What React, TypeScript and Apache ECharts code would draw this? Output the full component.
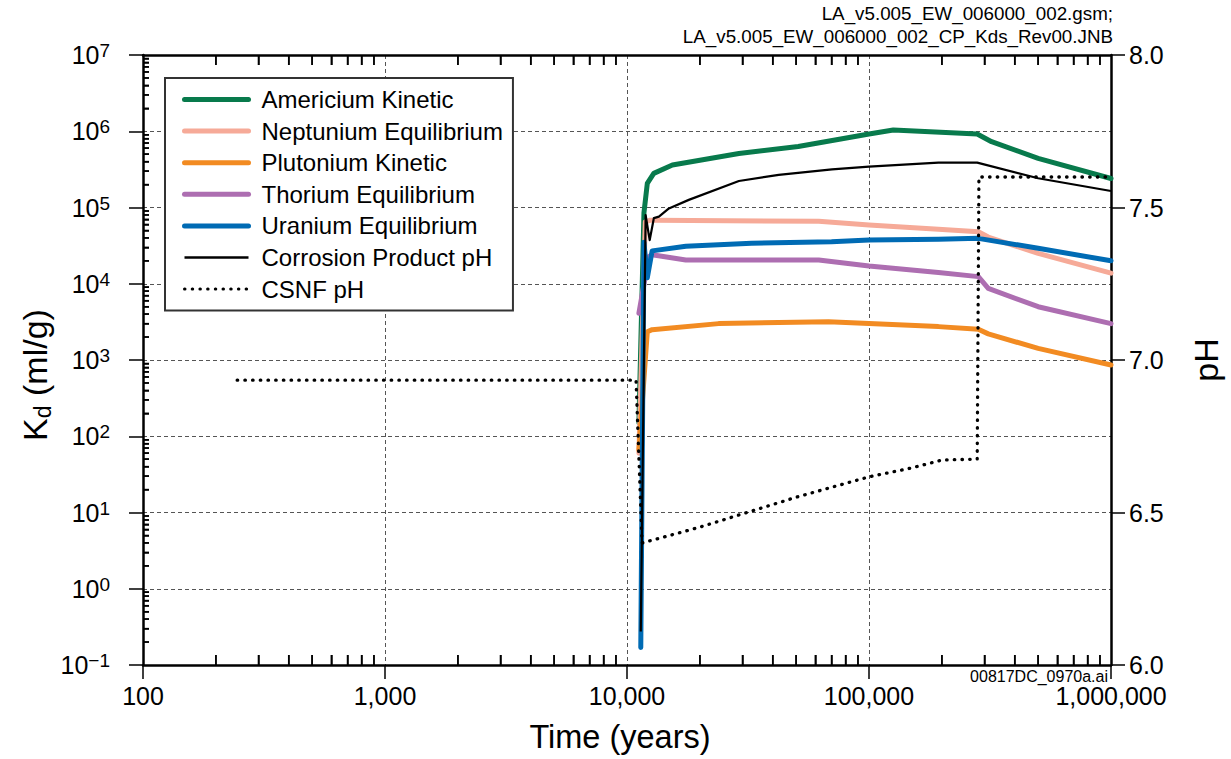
import React, { useEffect, useRef } from 'react';
import * as echarts from 'echarts';

type Pt = [number, number];

// Sorption coefficients (Kd, ml/g) against time (years)
const americiumKinetic: Pt[] = [
  [11200, 150], [11750, 8.5e4], [12130, 2.07e5], [12900, 2.8e5], [15400, 3.6e5],
  [29000, 5.1e5], [51000, 6.3e5], [100000, 9.2e5], [126000, 1.04e6], [280000, 9.2e5],
  [321000, 7.3e5], [500000, 4.4e5], [1000000, 2.4e5],
];
const neptuniumEquilibrium: Pt[] = [
  [11200, 60], [11900, 6.5e4], [12400, 6.8e4], [13000, 6.8e4], [62000, 6.6e4],
  [100000, 5.9e4], [193600, 5.2e4], [283000, 4.8e4], [311000, 4.1e4], [500000, 2.5e4],
  [1000000, 1.38e4],
];
const plutoniumKinetic: Pt[] = [
  [11200, 66], [12130, 2.35e3], [12700, 2.5e3], [23900, 3.0e3], [68000, 3.18e3],
  [100000, 3.0e3], [193600, 2.74e3], [283000, 2.53e3], [311000, 2.2e3], [500000, 1.42e3],
  [1000000, 860],
];
const thoriumEquilibrium: Pt[] = [
  [11200, 4100], [12300, 2.26e4], [12700, 2.4e4], [17500, 2.05e4], [62000, 2.05e4],
  [100000, 1.71e4], [193600, 1.4e4], [283000, 1.24e4], [311000, 8.7e3], [500000, 5.0e3],
  [1000000, 3.0e3],
];
const uraniumEquilibrium: Pt[] = [
  [11400, 0.17], [11750, 3.5e4], [12130, 1.2e4], [12700, 2.7e4], [17500, 3.1e4],
  [32700, 3.39e4], [70000, 3.56e4], [100000, 3.75e4], [193600, 3.83e4], [283000, 3.94e4],
  [500000, 2.92e4], [1000000, 2.0e4],
];

// pH histories (right axis)
const corrosionProductPH: Pt[] = [
  [11400, 6.11], [11940, 7.475], [12410, 7.393], [12910, 7.465], [13550, 7.47],
  [14900, 7.497], [18000, 7.525], [29000, 7.587], [42350, 7.607], [70300, 7.625],
  [100000, 7.634], [193600, 7.647], [280000, 7.647], [500000, 7.596], [1000000, 7.554],
];
const csnfPH: Pt[] = [
  [245, 6.934], [10900, 6.934], [11540, 6.40], [20000, 6.452], [50000, 6.55],
  [100000, 6.617], [150000, 6.646], [200000, 6.672], [280000, 6.675], [284600, 7.6],
  [1000000, 7.6],
];

const seriesNames = [
  'Americium Kinetic',
  'Neptunium Equilibrium',
  'Plutonium Kinetic',
  'Thorium Equilibrium',
  'Uranium Equilibrium',
  'Corrosion Product pH',
  'CSNF pH',
];
const seriesColors = ['#087A4C', '#F6AA98', '#F28B22', '#AD6EB1', '#006BB4', '#000000', '#000000'];
const seriesWidths = [5, 5, 5, 5, 5, 2.2, 3.3];
const legendWidths = [5, 5, 5, 5, 5, 2.5, 3];

const titleLines = ['LA_v5.005_EW_006000_002.gsm;', 'LA_v5.005_EW_006000_002_CP_Kds_Rev00.JNB'];
const figureId = '00817DC_0970a.ai';

// Logarithmic minor ticks (2..9 in each decade)
const minorSteps = [2, 3, 4, 5, 6, 7, 8, 9];
const xDecades = [100, 1000, 10000, 100000];
const yDecades = [0.1, 1, 10, 100, 1000, 10000, 100000, 1000000];
const X_MIN = 100;
const X_MAX = 1000000;
const KD_MIN = 0.1;
const KD_MAX = 10000000;

const FONT = '"Liberation Sans", Arial, Helvetica, sans-serif';
const DOTS = [0.5, 7.2];
const TICK_STYLE = { stroke: '#000', lineWidth: 1.5 };

// Companion axis in log10 units whose only visible part is its minor tick marks
function minorTickAxis(position: string, lo: number, hi: number, values: number[], length: number) {
  return {
    type: 'value',
    position,
    min: Math.log10(lo),
    max: Math.log10(hi),
    axisLine: { show: true, onZero: false, lineStyle: { color: 'rgba(0,0,0,0)', width: 1 } },
    axisLabel: { show: false },
    splitLine: { show: false },
    axisPointer: { show: false },
    axisTick: {
      show: true,
      inside: true,
      length,
      customValues: values,
      lineStyle: { color: '#000', width: 1.5 },
    },
  };
}

export default function App() {
  const ref = useRef<HTMLDivElement>(null);

  useEffect(() => {
    if (!ref.current) return;
    const chart = echarts.init(ref.current, null, { renderer: 'svg' });

    const kdSets = [americiumKinetic, neptuniumEquilibrium, plutoniumKinetic, thoriumEquilibrium, uraniumEquilibrium];

    const series: any[] = kdSets.map((data, i) => ({
      name: seriesNames[i],
      type: 'line',
      xAxisIndex: 0,
      yAxisIndex: 0,
      data,
      showSymbol: false,
      symbol: 'none',
      lineStyle: { color: seriesColors[i], width: seriesWidths[i], cap: 'round', join: 'round' },
      itemStyle: { color: seriesColors[i] },
      z: 3 + i,
    }));
    series.push({
      name: seriesNames[5],
      type: 'line',
      xAxisIndex: 0,
      yAxisIndex: 1,
      data: corrosionProductPH,
      showSymbol: false,
      symbol: 'none',
      lineStyle: { color: '#000', width: seriesWidths[5], join: 'round' },
      itemStyle: { color: '#000' },
      z: 9,
    });
    series.push({
      name: seriesNames[6],
      type: 'line',
      xAxisIndex: 0,
      yAxisIndex: 1,
      data: csnfPH,
      showSymbol: false,
      symbol: 'none',
      lineStyle: { color: '#000', width: seriesWidths[6], type: DOTS, cap: 'round' },
      itemStyle: { color: '#000' },
      z: 10,
    });

    // Minor tick marks drawn through the log axes (frame edges: bottom, top, left)
    const xMinorPts: Pt[] = [];
    xDecades.forEach((d) => minorSteps.forEach((m) => xMinorPts.push([m * d, KD_MIN])));
    const yMinorPts: Pt[] = [];
    yDecades.forEach((d) => minorSteps.forEach((m) => yMinorPts.push([X_MIN, m * d])));
    series.push({
      type: 'custom',
      name: seriesNames[6],
      xAxisIndex: 0,
      yAxisIndex: 0,
      silent: true,
      clip: false,
      z: 20,
      data: xMinorPts,
      renderItem: (_p: any, api: any) => {
        const v = api.value(0);
        const b = api.coord([v, KD_MIN]);
        const t = api.coord([v, KD_MAX]);
        return {
          type: 'group',
          children: [
            { type: 'line', shape: { x1: b[0], y1: b[1], x2: b[0], y2: b[1] - 10 }, style: TICK_STYLE },
            { type: 'line', shape: { x1: t[0], y1: t[1], x2: t[0], y2: t[1] + 10 }, style: TICK_STYLE },
          ],
        };
      },
    });
    series.push({
      type: 'custom',
      name: seriesNames[6],
      xAxisIndex: 0,
      yAxisIndex: 0,
      silent: true,
      clip: false,
      z: 20,
      data: yMinorPts,
      renderItem: (_p: any, api: any) => {
        const l = api.coord([X_MIN, api.value(1)]);
        return { type: 'line', shape: { x1: l[0], y1: l[1], x2: l[0] + 6, y2: l[1] }, style: TICK_STYLE };
      },
    });

    const xMinorLog: number[] = [];
    xDecades.forEach((d) => minorSteps.forEach((m) => xMinorLog.push(Math.log10(m * d))));
    const yMinorLog: number[] = [];
    yDecades.forEach((d) => minorSteps.forEach((m) => yMinorLog.push(Math.log10(m * d))));

    const frameLine = { show: true, onZero: false, lineStyle: { color: '#000', width: 2.5 } };

    const option: any = {
      animation: false,
      backgroundColor: '#fff',
      textStyle: { fontFamily: FONT },
      grid: { left: 143, right: 118, top: 55, bottom: 94, containLabel: false },
      legend: {
        data: seriesNames.map((name, i) => ({ name, lineStyle: { width: legendWidths[i] } })),
        orient: 'vertical',
        left: 165,
        top: 78,
        padding: [6, 10, 6, 17],
        itemGap: 0.6,
        itemWidth: 64,
        itemHeight: 14,
        backgroundColor: '#fff',
        borderColor: '#333',
        borderWidth: 2,
        borderRadius: 0,
        itemStyle: { opacity: 0 },
        selectedMode: false,
        textStyle: { fontSize: 24, color: '#000', fontFamily: FONT, lineHeight: 31, padding: [0, 0, 0, 8] },
      },
      graphic: [
        {
          type: 'text', right: 118, top: 4,
          style: { text: titleLines[0], font: `18.8px ${FONT}`, fill: '#000' },
        },
        {
          type: 'text', right: 118, top: 27,
          style: { text: titleLines[1], font: `18.8px ${FONT}`, fill: '#000' },
        },
        {
          type: 'text', right: 123, top: 668,
          style: { text: figureId, font: `16px ${FONT}`, fill: '#000' },
        },
        {
          type: 'text', x: 35, y: 375, rotation: Math.PI / 2,
          style: {
            text: '{k|K}{d|d}{k| (ml/g)}',
            align: 'center', verticalAlign: 'middle',
            textAlign: 'center', textVerticalAlign: 'middle',
            rich: {
              k: { fontSize: 34, lineHeight: 38, fontFamily: FONT, fill: '#000' },
              d: { fontSize: 23, lineHeight: 22, verticalAlign: 'bottom', fontFamily: FONT, fill: '#000' },
            },
          },
        },
      ],
      xAxis: [
        {
          type: 'log', logBase: 10, min: X_MIN, max: X_MAX, splitNumber: 4, position: 'bottom',
          axisLine: frameLine,
          axisTick: { inside: false, length: 14, lineStyle: { color: '#000', width: 1.5 } },
          axisLabel: {
            fontSize: 25, color: '#000', margin: 18, fontFamily: FONT,
            formatter: (v: number) => Math.round(v).toLocaleString('en-US'),
          },
          splitLine: { show: true, lineStyle: { color: '#555', type: [4, 3], width: 1 } },
          name: 'Time (years)', nameLocation: 'middle', nameGap: 55,
          nameTextStyle: { fontSize: 32.5, color: '#000', fontFamily: FONT, padding: [0, 14, 0, 0] },
        },
        {
          type: 'log', logBase: 10, min: X_MIN, max: X_MAX, position: 'top',
          axisLine: frameLine,
          axisTick: { show: false }, axisLabel: { show: false }, splitLine: { show: false },
        },
        minorTickAxis('bottom', X_MIN, X_MAX, xMinorLog, 10),
        minorTickAxis('top', X_MIN, X_MAX, xMinorLog, 10),
      ],
      yAxis: [
        {
          type: 'log', logBase: 10, min: KD_MIN, max: KD_MAX, splitNumber: 8, position: 'left',
          axisLine: frameLine,
          axisTick: { show: true, inside: false, length: 14, lineStyle: { color: '#000', width: 1.5 } },
          axisLabel: {
            margin: 33, color: '#000',
            formatter: (v: number) => {
              const e = Math.round(Math.log10(v));
              return `{b|10}{s|${e < 0 ? '\u2212' + Math.abs(e) : e}}`;
            },
            rich: {
              b: { fontSize: 25, lineHeight: 28, fontFamily: FONT, color: '#000' },
              s: { fontSize: 19, lineHeight: 19, verticalAlign: 'top', fontFamily: FONT, color: '#000' },
            },
          },
          splitLine: { show: true, lineStyle: { color: '#555', type: [4, 3], width: 1 } },
        },
        {
          type: 'value', min: 6, max: 8, interval: 0.5, position: 'right',
          axisLine: frameLine,
          axisTick: { show: true, inside: false, length: 14, lineStyle: { color: '#000', width: 1.5 } },
          axisLabel: { fontSize: 25, color: '#000', margin: 18, fontFamily: FONT, formatter: (v: number) => v.toFixed(1) },
          splitLine: { show: false },
          name: 'pH', nameLocation: 'middle', nameGap: 78, nameRotate: 90,
          nameTextStyle: { fontSize: 34, color: '#000', fontFamily: FONT },
        },
        minorTickAxis('left', KD_MIN, KD_MAX, yMinorLog, 6),
      ],
      series,
    };

    chart.setOption(option);
    return () => chart.dispose();
  }, []);

  return <div ref={ref} style={{ position: 'fixed', left: 0, top: 0, width: 1231, height: 759 }} />;
}
